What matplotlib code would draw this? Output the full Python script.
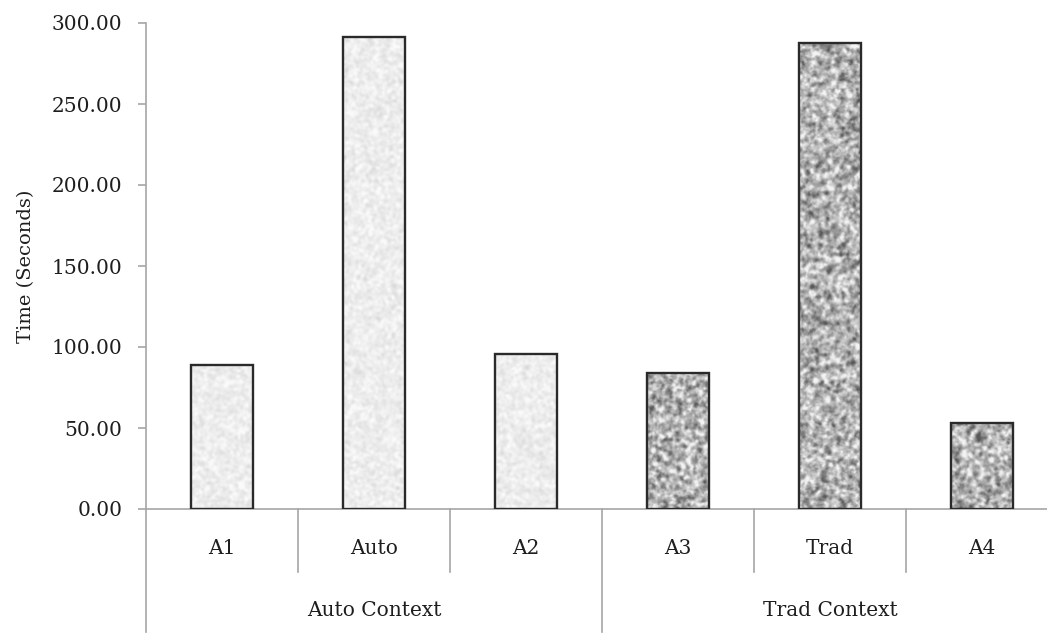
import numpy as np
import matplotlib
matplotlib.use("Agg")
import matplotlib.pyplot as plt
from matplotlib.transforms import blended_transform_factory

# Data
categories = ["A1", "Auto", "A2", "A3", "Trad", "A4"]
times = [89.0, 291.5, 95.5, 84.0, 287.5, 53.0]
groups = ["Auto Context", "Trad Context"]
group_sizes = [3, 3]
y_ticks = [0, 50, 100, 150, 200, 250, 300]

FONT = "DejaVu Serif"
AXIS_GREY = "#a6a6a6"
TEXT = "#1e1e1e"

fig = plt.figure(figsize=(10.47, 6.33), dpi=100)
ax = fig.add_axes([146 / 1047, 1 - 509 / 633, 912 / 1047, 486 / 633])

x = np.arange(len(categories))
rects = ax.bar(x, times, width=0.41, facecolor="none", edgecolor="#2a2a2a",
               linewidth=1.7, zorder=3)

rng = np.random.default_rng(7)


def blur(a, sigma):
    """Gaussian blur via FFT."""
    h, w = a.shape
    fy = np.fft.fftfreq(h)[:, None]
    fx = np.fft.fftfreq(w)[None, :]
    g = np.exp(-2 * (np.pi * sigma) ** 2 * (fx ** 2 + fy ** 2))
    return np.real(np.fft.ifft2(np.fft.fft2(a) * g))


def norm(a):
    return (a - a.mean()) / a.std()


def texture(h_px, w_px, dark):
    if dark:
        t = norm(blur(rng.normal(size=(h_px, w_px)), 1.5))
        fine = norm(blur(rng.normal(size=(h_px, w_px)), 0.7))
        v = 0.70 + 0.12 * t + 0.04 * fine
        return np.clip(v, 0.35, 0.95)
    t = norm(blur(rng.normal(size=(h_px, w_px)), 1.3))
    v = 0.93 + 0.022 * t
    return np.clip(v, 0.82, 0.98)


px_per_unit = 486 / 300
for i, (r, val) in enumerate(zip(rects, times)):
    dark = i >= group_sizes[0]
    h_px = max(int(val * px_per_unit), 2)
    w_px = 64
    img = texture(h_px, w_px, dark)
    x0 = r.get_x()
    im = ax.imshow(img, cmap="gray", vmin=0, vmax=1, origin="lower",
                   extent=(x0, x0 + r.get_width(), 0, val), aspect="auto",
                   interpolation="bilinear", zorder=2)
    im.set_clip_path(r)

ax.set_xlim(-0.5, len(categories) - 0.5)
ax.set_ylim(0, 300)

# Spines and ticks
for s in ["top", "right"]:
    ax.spines[s].set_visible(False)
for s in ["left", "bottom"]:
    ax.spines[s].set_color(AXIS_GREY)
    ax.spines[s].set_linewidth(1.2)

ax.set_yticks(y_ticks)
ax.set_yticklabels([f"{v:.2f}" for v in y_ticks], fontfamily=FONT,
                   fontsize=14.5, color=TEXT)
ax.tick_params(axis="y", direction="out", length=6, width=1.2,
               color=AXIS_GREY, pad=11)
ax.set_xticks([])
ax.set_ylabel("Time (Seconds)", fontfamily=FONT, fontsize=14,
              color=TEXT, labelpad=12)

# Two-level category axis
trans = blended_transform_factory(ax.transData, ax.transAxes)
y_sep_short = (509 - 572) / 486
y_sep_long = (509 - 632) / 486
y_lab = (509 - 548) / 486
y_grp = (509 - 610) / 486

for i, c in enumerate(categories):
    ax.text(i, y_lab, c, transform=trans, ha="center", va="center",
            fontfamily=FONT, fontsize=14.5, color=TEXT)

bounds = np.cumsum([0] + group_sizes) - 0.5
for k in range(len(categories) + 1):
    xb = k - 0.5
    is_group = np.any(np.isclose(bounds, xb))
    ylow = y_sep_long if is_group else y_sep_short
    ax.plot([xb, xb], [0, ylow], transform=trans, color=AXIS_GREY,
            lw=1.2, clip_on=False, zorder=1)

for g, (name, lo, hi) in enumerate(zip(groups, bounds[:-1], bounds[1:])):
    ax.text((lo + hi) / 2, y_grp, name, transform=trans, ha="center",
            va="center", fontfamily=FONT, fontsize=14.5, color=TEXT)

fig.savefig("out.png", dpi=100)
